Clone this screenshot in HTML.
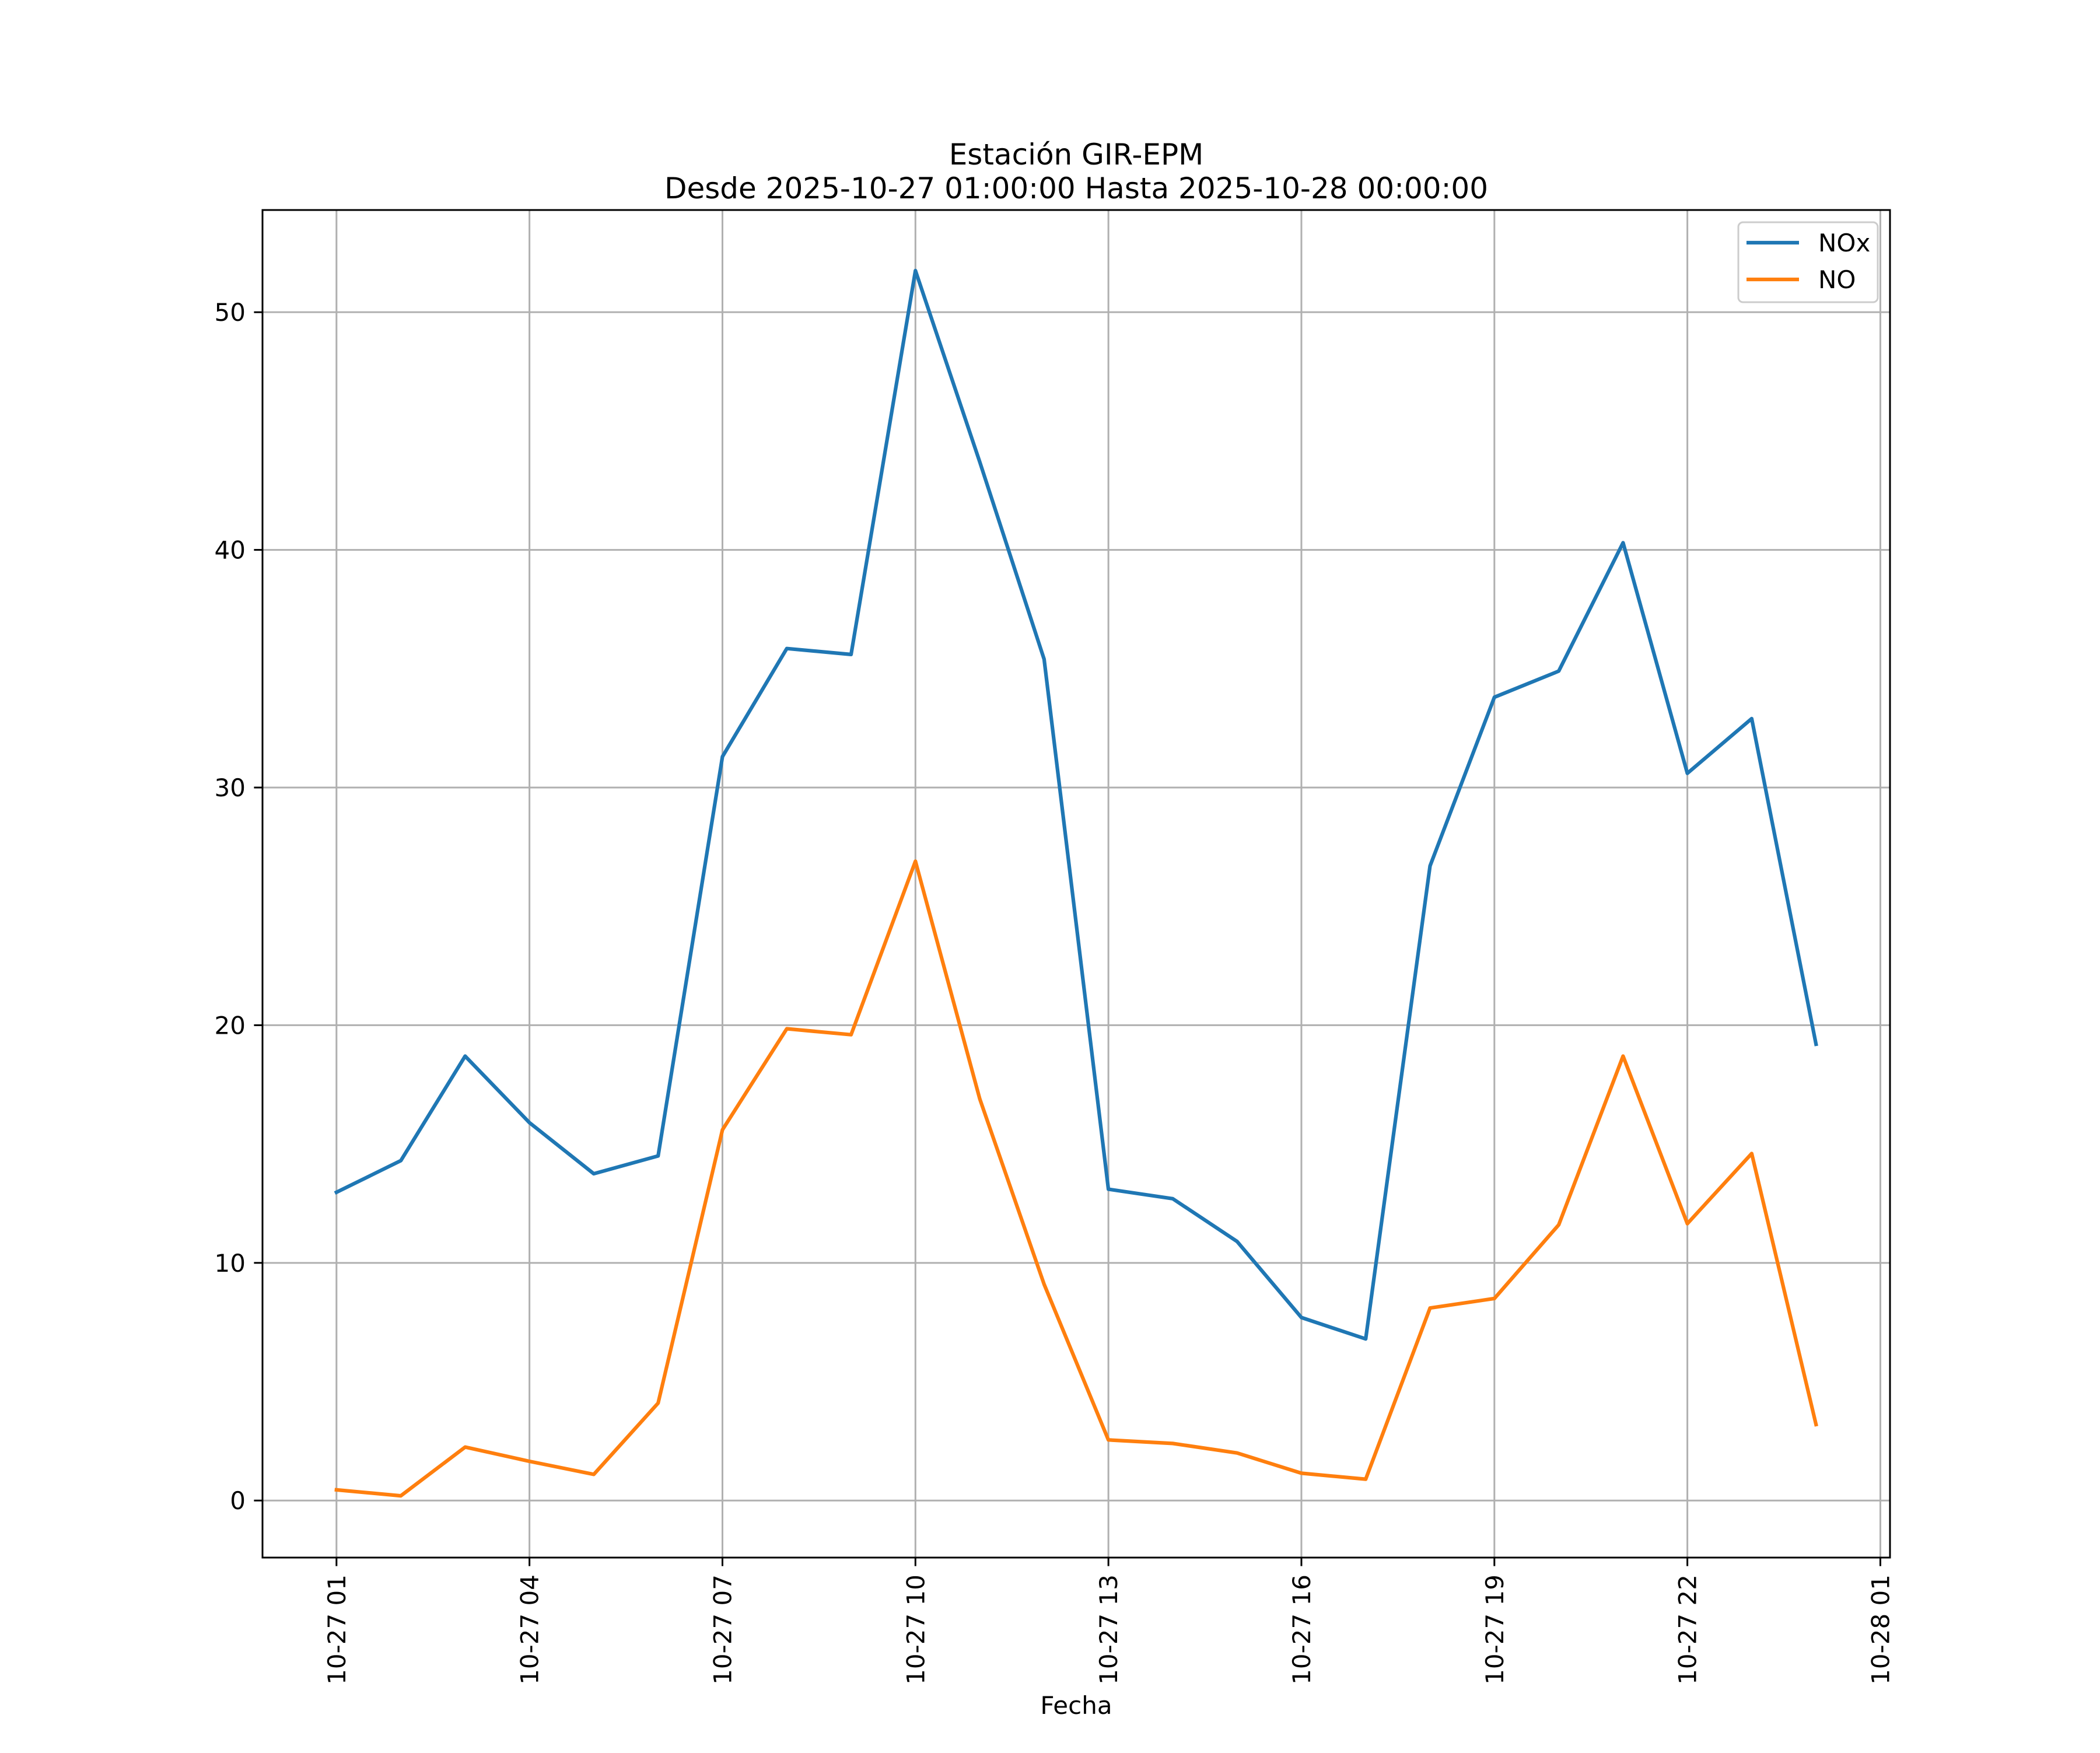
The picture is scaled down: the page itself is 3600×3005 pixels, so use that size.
<!DOCTYPE html>
<html><head><meta charset="utf-8"><style>
html,body{margin:0;padding:0;background:#fff;}
svg text{font-family:"DejaVu Sans","Liberation Sans",sans-serif;fill:#000;}
</style></head><body>
<svg id="chart" width="3600" height="3000" xmlns="http://www.w3.org/2000/svg">
<rect x="0" y="0" width="3600" height="3000" fill="#fff"/>
<text x="1845" y="282" font-size="50" text-anchor="middle">Estación GIR-EPM</text>
<text x="1845" y="340" font-size="50" text-anchor="middle">Desde 2025-10-27 01:00:00 Hasta 2025-10-28 00:00:00</text>
<g id="grid"></g>
<g id="series"></g>
<rect x="450" y="360" width="2790" height="2310" fill="none" stroke="#000" stroke-width="3"/>
<g id="axes"></g>
<text x="1845" y="2938" font-size="42" text-anchor="middle">Fecha</text>
<g>
<rect x="2980" y="381" width="239" height="137" rx="8" fill="#fff" fill-opacity="0.8" stroke="#ccc" stroke-width="3"/>
<line x1="2994" y1="416" x2="3084" y2="416" stroke="#1f77b4" stroke-width="6.25"/>
<text x="3117" y="431" font-size="42">NOx</text>
<line x1="2994" y1="479" x2="3084" y2="479" stroke="#ff7f0e" stroke-width="6.25"/>
<text x="3117" y="494" font-size="42">NO</text>
</g>
</svg>
<script>
const hours = [1,2,3,4,5,6,7,8,9,10,11,12,13,14,15,16,17,18,19,20,21,22,23,24];
const noxValues = [12.97,14.3,18.7,15.9,13.75,14.5,31.3,35.85,35.6,51.75,43.7,35.4,13.1,12.7,10.9,7.7,6.8,26.7,33.8,34.9,40.3,30.6,32.9,19.2];
const noValues = [0.45,0.2,2.25,1.65,1.1,4.1,15.6,19.85,19.6,26.9,16.9,9.1,2.55,2.4,2.0,1.15,0.9,8.1,8.5,11.6,18.7,11.65,14.6,3.2];
const yTicks = [0,10,20,30,40,50];
const xTickHours = [1,4,7,10,13,16,19,22,25];
const xTickLabels = ["10-27 01","10-27 04","10-27 07","10-27 10","10-27 13","10-27 16","10-27 19","10-27 22","10-28 01"];

const L=450,R=3240,T=360,B=2670;
const xMin=1-23*0.05, xMax=24+23*0.05;
const yMin=-2.4, yMax=54.3;
function xS(h){return L+(h-xMin)/(xMax-xMin)*(R-L);}
function yS(v){return B-(v-yMin)/(yMax-yMin)*(B-T);}
const NS="http://www.w3.org/2000/svg";
function mk(tag,attrs,parent){const e=document.createElementNS(NS,tag);for(const k in attrs)e.setAttribute(k,attrs[k]);parent.appendChild(e);return e;}
const grid=document.getElementById('grid'),axes=document.getElementById('axes'),series=document.getElementById('series');
yTicks.forEach(v=>{
  const y=yS(v);
  const g=mk('line',{x1:L,x2:R,y1:y,y2:y,stroke:'#b0b0b0','stroke-width':3},grid);
  
  
  const t=mk('line',{x1:L-14.6,x2:L,y1:y,y2:y,stroke:'#000','stroke-width':3},axes);
  
  
  const tx=mk('text',{x:L-29,y:y+15,'font-size':42,'text-anchor':'end'},axes);
  tx.textContent=String(v);
  
  
});
xTickHours.forEach((h,i)=>{
  const x=xS(h);
  const g=mk('line',{x1:x,x2:x,y1:T,y2:B,stroke:'#b0b0b0','stroke-width':3},grid);
  
  
  const t=mk('line',{x1:x,x2:x,y1:B,y2:B+14.6,stroke:'#000','stroke-width':3},axes);
  
  
  const tx=mk('text',{x:0,y:0,'font-size':42,'text-anchor':'end',transform:`translate(${x+15},${B+29}) rotate(-90)`},axes);
  tx.textContent=xTickLabels[i];
  
  
});
function drawLine(vals,color,name){
  const pts=hours.map((h,i)=>xS(h).toFixed(1)+','+yS(vals[i]).toFixed(1)).join(' ');
  const p=mk('polyline',{points:pts,fill:'none',stroke:color,'stroke-width':6.25,'stroke-linejoin':'round','stroke-linecap':'square'},series);
  
  
}
drawLine(noxValues,'#1f77b4','nox-line');
drawLine(noValues,'#ff7f0e','no-line');
</script>
</body></html>
